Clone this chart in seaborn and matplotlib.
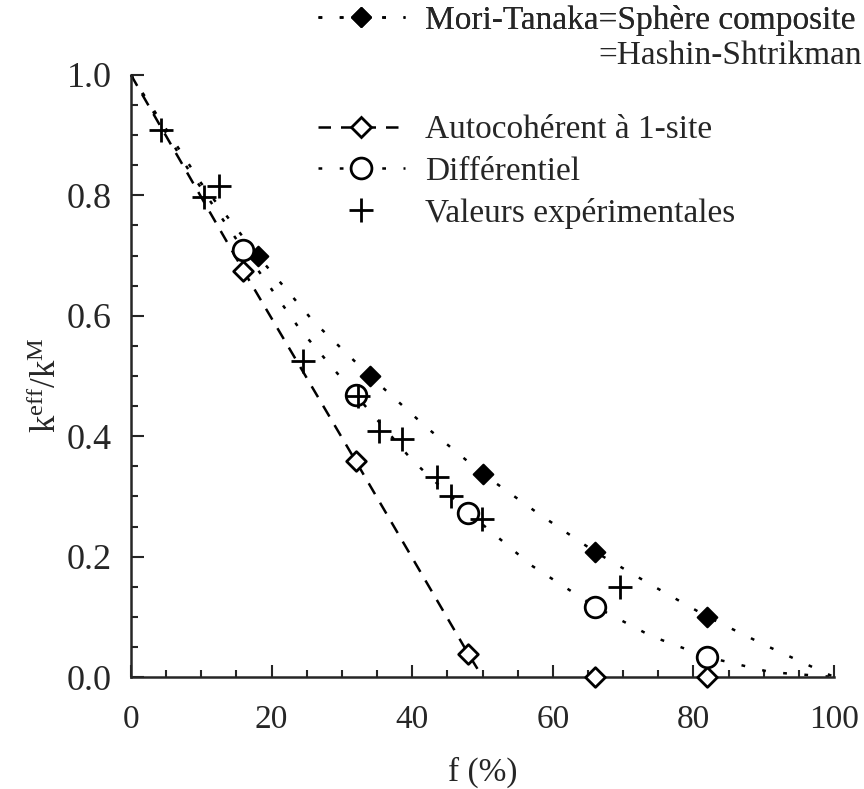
import numpy as np
import pandas as pd
import matplotlib
matplotlib.use('Agg')
import matplotlib.pyplot as plt
from matplotlib.lines import Line2D
from matplotlib.ticker import MultipleLocator, FormatStrFormatter
import seaborn as sns

# marker points (f in %, k_eff/k_M)
f_mt = [18, 34, 50, 66, 82]
k_mt = [0.70, 0.50, 0.338, 0.208, 0.10]
f_ac = [16, 32, 48, 66, 82]
k_ac = [0.675, 0.358, 0.038, 0.0, 0.0]
f_diff = [16, 32, 48, 66, 82]
k_diff = [0.71, 0.468, 0.273, 0.117, 0.033]
f_exp = [4.3, 10.4, 12.5, 24.5, 32.3, 35.3, 38.5, 43.5, 45.5, 49.9, 69.6]
k_exp = [0.908, 0.797, 0.815, 0.525, 0.467, 0.408, 0.395, 0.333, 0.30, 0.263, 0.15]

# curves
curve_f_mt = [0, 5, 10, 18, 26, 34, 42, 50, 58, 66, 74, 82, 90, 100]
curve_k_mt = [1.0, 0.91, 0.82, 0.70, 0.59, 0.50, 0.415, 0.338, 0.271, 0.208, 0.153, 0.10, 0.054, 0.0]
curve_f_diff = [0, 8, 16, 24, 32, 40, 48, 57, 66, 74, 82, 91, 100]
curve_k_diff = [1.0, 0.846, 0.71, 0.578, 0.468, 0.36, 0.273, 0.185, 0.117, 0.068, 0.033, 0.008, 0.0]
curve_f_ac = [0, 16, 32, 48, 50]
curve_k_ac = [1.0, 0.675, 0.358, 0.038, 0.0]

labels = ['Mori-Tanaka=Sphère composite', 'Autocohérent à 1-site',
          'Différentiel', 'Valeurs expérimentales']
label_hs = '=Hashin-Shtrikman'

sns.set_style('ticks')
plt.rcParams['font.family'] = ['Liberation Serif', 'DejaVu Serif']
plt.rcParams['mathtext.fontset'] = 'custom'
plt.rcParams['mathtext.rm'] = 'Liberation Serif'

dotted = (0, (1.5, 7))
dashed = (0, (5, 4))
lw = 1.8

fig = plt.figure(figsize=(8.64, 7.89), dpi=100)
ax = fig.add_axes([131 / 864, 112 / 789, 703 / 864, 602 / 789])

sns.lineplot(x=curve_f_mt, y=curve_k_mt, ax=ax, color='black', lw=lw, linestyle=dotted, clip_on=False)
sns.lineplot(x=curve_f_diff, y=curve_k_diff, ax=ax, color='black', lw=lw, linestyle=dotted, clip_on=False)
sns.lineplot(x=curve_f_ac, y=curve_k_ac, ax=ax, color='black', lw=lw, linestyle=dashed, clip_on=False)

sns.scatterplot(x=f_mt, y=k_mt, ax=ax, marker='D', s=100, color='black', edgecolor='black',
                linewidth=1.5, zorder=5, clip_on=False)
sns.scatterplot(x=f_ac, y=k_ac, ax=ax, marker='D', s=100, color='white', edgecolor='black',
                linewidth=2, zorder=5, clip_on=False)
sns.scatterplot(x=f_diff, y=k_diff, ax=ax, marker='o', s=220, color='white', edgecolor='black',
                linewidth=2, zorder=5, clip_on=False)
sns.scatterplot(x=f_exp, y=k_exp, ax=ax, marker='+', s=280, color='black',
                linewidth=2, zorder=6, clip_on=False)

ax.set_xlim(0, 100)
ax.set_ylim(0, 1.0)
ax.set_xticks([0, 20, 40, 60, 80, 100])
ax.set_yticks([0, 0.2, 0.4, 0.6, 0.8, 1.0])
ax.xaxis.set_minor_locator(MultipleLocator(5))
ax.yaxis.set_minor_locator(MultipleLocator(0.05))
ax.yaxis.set_major_formatter(FormatStrFormatter('%.1f'))
ax.tick_params(which='major', direction='in', length=9, width=1.5)
ax.tick_params(which='minor', direction='in', length=5, width=1.5)
ax.tick_params(axis='x', which='major', labelsize=24, pad=20)
ax.tick_params(axis='y', which='major', labelsize=26, pad=14)
sns.despine(ax=ax)
for s in ['left', 'bottom']:
    ax.spines[s].set_linewidth(1.8)

ax.set_xlabel('f (%)', fontsize=24)
ax.xaxis.set_label_coords(0.5, -0.133)
ax.set_ylabel(r'$\mathregular{k^{eff}/k^{M}}$', fontsize=25)
ax.yaxis.set_label_coords(-0.095, 0.485)

# legend
h_mt = Line2D([], [], color='black', lw=lw, linestyle=dotted, marker='D', markersize=10,
              markerfacecolor='black')
h_ac = Line2D([], [], color='black', lw=lw, linestyle=dashed, marker='D', markersize=10,
              markerfacecolor='white', markeredgewidth=2)
h_diff = Line2D([], [], color='black', lw=lw, linestyle=dotted, marker='o', markersize=15,
                markerfacecolor='white', markeredgewidth=2)
h_exp = Line2D([], [], color='black', lw=0, marker='+', markersize=17, markeredgewidth=2)

leg1 = fig.legend([h_mt], [labels[0]], loc='upper left', bbox_to_anchor=(318 / 864, 1 - 5 / 789),
                  frameon=False, fontsize=24, handlelength=2.6, handletextpad=0.6,
                  borderpad=0, borderaxespad=0)
fig.legend([h_ac, h_diff, h_exp], labels[1:], loc='upper left',
           bbox_to_anchor=(318 / 864, 1 - 115 / 789), frameon=False, fontsize=24,
           handlelength=2.6, handletextpad=0.6, borderpad=0, borderaxespad=0, labelspacing=0.33)
fig.add_artist(leg1)
fig.text(862 / 864, 1 - 56 / 789, label_hs, ha='right', va='center', fontsize=24)

fig.savefig('out.png', dpi=100)
